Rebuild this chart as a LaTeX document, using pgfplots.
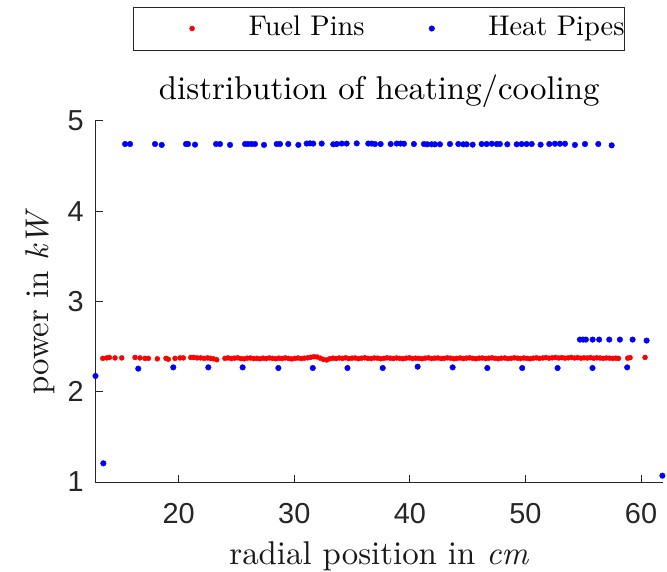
\documentclass[border=0pt]{standalone}
\usepackage{fontspec}
\setmainfont{lmroman10}[Extension=.otf, UprightFont=*-regular,
  ItalicFont=*-italic, BoldFont=*-bold]
\newfontfamily\ticksans{Liberation Sans}
\usepackage{pgfplots}
\pgfplotsset{compat=1.18}
\definecolor{axgray}{gray}{0.15}
% legend images: a single dot with fixed room on either side
\pgfplotsset{
  fuel legend/.style={legend image code/.code={\path (-58.3bp,0bp) (56bp,0bp);
    \draw[##1] plot coordinates {(0bp,0bp)};}},
  pipe legend/.style={legend image code/.code={\path (-66.7bp,0bp) (56bp,0bp);
    \draw[##1] plot coordinates {(0bp,0bp)};}},
}

\begin{document}
\begin{tikzpicture}
\useasboundingbox (-95.5bp,-90bp) rectangle (571.5bp,482bp);
\begin{axis}[
  at={(0,0)}, anchor=south west,
  scale only axis, width=567.5bp, height=361bp,
  xmin=12.8, xmax=61.9, ymin=1, ymax=5,
  xtick={20,30,40,50,60}, ytick={1,2,3,4,5},
  axis x line*=bottom, axis y line*=left,
  axis line style={-, draw=axgray, line width=1bp},
  tick style={draw=axgray, line width=1bp},
  tick align=inside, major tick length=7bp,
  clip=false,
  /pgf/number format/assume math mode=true,
  ticklabel style={font=\ticksans\fontsize{29}{29}\selectfont, text=axgray},
  xticklabel style={anchor=north, inner sep=0pt, yshift=-21bp},
  yticklabel style={anchor=east, inner sep=0pt, xshift=-11.5bp},
  title={distribution of heating/cooling},
  title style={at={(0.5,1.043)}, anchor=base, inner sep=0pt, yshift=0pt,
    font=\fontsize{33}{33}\selectfont},
  xlabel={radial position in \textit{cm}},
  xlabel style={at={(axis description cs:0.5,-0.2299)}, anchor=base,
    inner sep=0pt, font=\fontsize{33}{33}\selectfont, text=black!90},
  ylabel={power in \textit{kW}},
  ylabel style={at={(axis description cs:-0.0828,0.5)}, anchor=base,
    inner sep=0pt, font=\fontsize{33}{33}\selectfont, text=black!90},
  legend columns=2,
  legend style={at={(0.4994,1.2562)}, anchor=center, draw=black!85,
    line width=0.9bp, inner xsep=0pt, inner ysep=9bp, column sep=0pt,
    font=\fontsize{28.5}{28.5}\selectfont,
    nodes={inner sep=0pt, text height=19bp, text depth=6bp},
    cells={anchor=west}},
]

% fuel pins
\addplot[only marks, mark=*, color=red, mark size=2.5bp,
  mark options={line width=0.4bp}, fuel legend]
table {
13.43 2.370
13.77 2.375
14.00 2.380
14.49 2.375
15.07 2.375
16.22 2.380
16.65 2.375
17.08 2.370
17.37 2.370
18.15 2.365
18.90 2.370
19.10 2.360
19.68 2.370
20.11 2.375
20.40 2.375
21.04 2.380
21.30 2.380
21.60 2.375
21.90 2.375
22.20 2.370
22.50 2.375
22.75 2.370
23.00 2.365
23.29 2.355
24.00 2.370
24.27 2.375
24.55 2.368
24.82 2.372
25.10 2.376
25.37 2.368
25.65 2.365
25.92 2.372
26.20 2.374
26.47 2.368
26.75 2.370
27.02 2.366
27.30 2.372
27.57 2.368
27.85 2.374
28.12 2.370
28.40 2.366
28.67 2.372
28.95 2.368
29.22 2.375
29.50 2.370
29.77 2.364
30.05 2.370
30.32 2.374
30.60 2.368
30.87 2.372
31.15 2.376
31.42 2.382
31.70 2.388
31.97 2.385
32.25 2.372
32.52 2.358
32.80 2.352
33.07 2.366
33.35 2.372
33.62 2.368
33.90 2.374
34.17 2.370
34.45 2.376
34.72 2.368
35.00 2.372
35.27 2.374
35.55 2.366
35.82 2.372
36.10 2.376
36.37 2.370
36.65 2.368
36.92 2.374
37.20 2.372
37.47 2.366
37.75 2.370
38.02 2.376
38.30 2.372
38.57 2.368
38.85 2.374
39.12 2.370
39.40 2.366
39.67 2.372
39.95 2.376
40.22 2.368
40.50 2.372
40.77 2.370
41.05 2.366
41.32 2.372
41.60 2.376
41.87 2.368
42.15 2.372
42.42 2.374
42.70 2.368
42.97 2.370
43.25 2.376
43.52 2.372
43.80 2.366
44.07 2.370
44.35 2.374
44.62 2.368
44.90 2.372
45.17 2.376
45.45 2.370
45.72 2.366
46.00 2.372
46.27 2.374
46.55 2.368
46.82 2.372
47.10 2.376
47.37 2.370
47.65 2.366
47.92 2.372
48.20 2.374
48.47 2.368
48.75 2.370
49.02 2.376
49.30 2.372
49.57 2.368
49.85 2.374
50.12 2.370
50.40 2.366
50.67 2.372
50.95 2.376
51.22 2.370
51.50 2.374
51.77 2.378
52.05 2.372
52.32 2.376
52.60 2.380
52.87 2.374
53.15 2.378
53.42 2.372
53.70 2.376
53.97 2.380
54.25 2.374
54.52 2.378
54.80 2.372
55.07 2.376
55.35 2.374
55.62 2.378
55.90 2.372
56.17 2.376
56.45 2.374
56.72 2.370
57.00 2.374
57.27 2.372
57.55 2.370
57.82 2.372
58.05 2.370
58.85 2.372
59.05 2.378
60.35 2.380
};
\addlegendentry{Fuel Pins}

% heat pipes
\addplot[only marks, mark=*, color=blue, mark size=2.8bp,
  mark options={line width=0.4bp}, pipe legend]
table {
12.80 2.175
13.48 1.207
61.85 1.070
15.36 4.745
15.79 4.745
17.95 4.745
18.53 4.735
20.63 4.745
20.80 4.745
21.41 4.738
23.23 4.745
23.57 4.745
24.44 4.735
25.74 4.745
26.00 4.745
26.30 4.745
26.60 4.745
27.38 4.735
28.48 4.745
28.76 4.745
29.48 4.745
30.35 4.735
31.07 4.750
31.36 4.752
31.64 4.750
32.37 4.750
33.37 4.742
33.67 4.745
34.10 4.750
34.53 4.750
35.40 4.752
36.40 4.750
36.70 4.750
36.98 4.745
37.47 4.745
38.34 4.745
38.86 4.750
39.20 4.750
39.49 4.748
40.35 4.745
41.22 4.745
41.50 4.742
41.88 4.742
42.17 4.742
42.60 4.742
43.47 4.745
44.19 4.745
44.62 4.742
44.91 4.742
45.43 4.738
46.21 4.745
46.64 4.745
47.08 4.748
47.51 4.745
47.79 4.745
48.43 4.742
49.24 4.742
49.67 4.745
50.10 4.745
50.54 4.745
51.31 4.738
52.06 4.745
52.55 4.748
52.98 4.748
53.42 4.748
54.28 4.735
55.15 4.745
56.30 4.745
57.46 4.730
16.50 2.256
19.53 2.270
22.56 2.270
25.53 2.270
28.62 2.263
31.60 2.263
34.60 2.263
37.65 2.263
40.67 2.278
43.70 2.270
46.70 2.263
49.72 2.263
52.78 2.263
55.80 2.263
58.80 2.270
54.71 2.578
54.99 2.578
55.23 2.578
55.81 2.578
56.38 2.578
57.25 2.578
58.17 2.578
59.27 2.578
60.48 2.567
};
\addlegendentry{Heat Pipes\hspace{11bp}}
\end{axis}
\end{tikzpicture}
\end{document}
